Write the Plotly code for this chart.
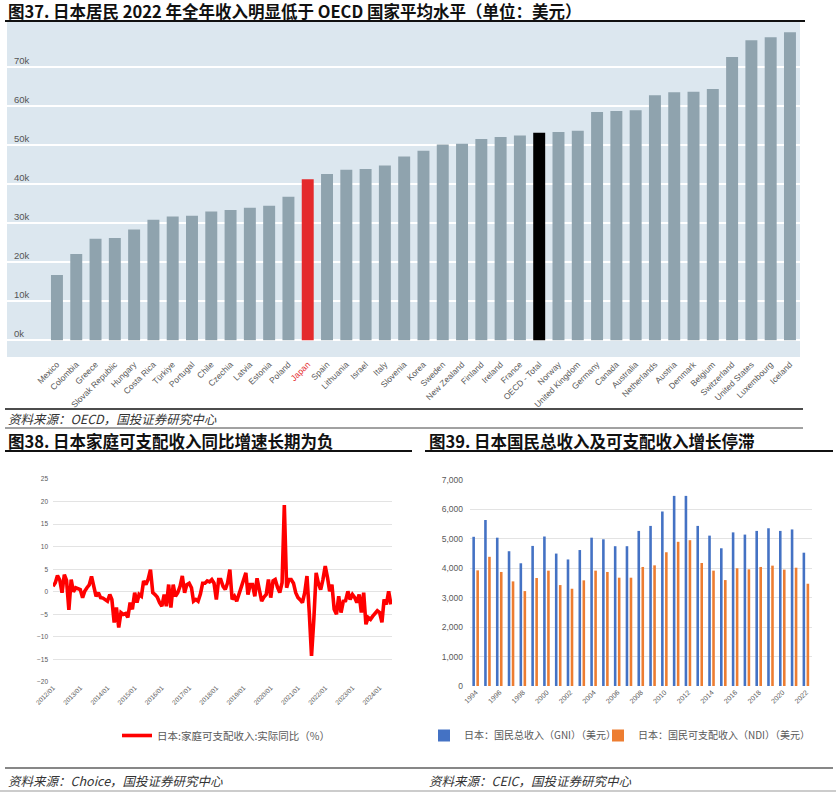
import plotly.graph_objects as go
import pandas as pd

W, H = 836, 792
def px(x): return x / W
def py(y): return 1 - y / H

# ---------------- Fig 37 data ----------------
countries = ["Mexico", "Colombia", "Greece", "Slovak Republic", "Hungary", "Costa Rica", "Türkiye",
             "Portugal", "Chile", "Czechia", "Latvia", "Estonia", "Poland", "Japan", "Spain",
             "Lithuania", "Israel", "Italy", "Slovenia", "Korea", "Sweden", "New Zealand", "Finland",
             "Ireland", "France", "OECD - Total", "Norway", "United Kingdom", "Germany", "Canada",
             "Australia", "Netherlands", "Austria", "Denmark", "Belgium", "Switzerland",
             "United States", "Luxembourg", "Iceland"]
income = [16750, 22100, 26000, 26200, 28400, 30900, 31700, 31900, 33000, 33400, 34000, 34500,
          36800, 41300, 42600, 43700, 43900, 44800, 47100, 48600, 50200, 50400, 51600, 52100,
          52500, 53200, 53400, 53700, 58500, 58800, 59000, 62800, 63600, 63700, 64400, 72600,
          76900, 77700, 79000]
income_ticks = [0, 10000, 20000, 30000, 40000, 50000, 60000, 70000]
income_tick_labels = ["0k", "10k", "20k", "30k", "40k", "50k", "60k", "70k"]

# ---------------- Fig 38 data ----------------
start_month = "2012-01-01"
real_yoy = [1.2, 2.0, 3.6, 2.6, -0.2, 3.8, 2.5, -4.0, 2.7, 0.0, 0.9, 0.8,
            0.5, -1.3, 0.1, 0.9, 1.5, 3.4, 1.2, -1.0, -0.2, -1.3, -1.4, -1.7,
            -2.1, -0.6, -1.7, -6.8, -3.5, -7.9, -4.6, -5.0, -4.8, -5.7, -2.4, -3.9,
            -0.2, -2.4, -0.6, -1.0, 2.4, 1.6, 2.8, 4.9, -0.2, -0.6, -1.2, -2.4,
            -3.2, -0.6, -3.2, 1.6, -3.5, 1.6, -1.0, -0.2, 1.2, 3.5, -0.2, 1.6,
            1.9, 0.9, -2.1, -1.7, -2.1, -0.5, 1.9, 1.9, 2.4, 2.2, 2.7, 1.9,
            -1.7, 2.7, 2.7, 1.2, 0.5, 2.0, 4.9, -1.7, -1.0, -2.1, -0.5, 0.5,
            2.7, 4.2, -0.6, 1.6, 1.6, -1.0, 3.0, 0.5, -2.1, -1.2, -0.6, 2.7,
            -1.3, 2.4, 2.7, 1.0, -0.2, 2.0, 19.2, 0.9, 2.7, 2.7, 1.9, -0.2,
            -1.3, -1.8, -2.4, -0.2, 3.5, -4.6, -14.2, -6.1, 4.2, 1.9, 0.5, 2.7,
            5.7, 3.1, 0.1, 1.6, -3.9, -5.0, -1.0, -4.6, -2.1, -2.0, 0.1, -1.7,
            -0.6, -1.3, -2.4, -0.6, -4.6, -0.2, -7.2, -5.7, -6.1, -5.4, -4.8, -4.2,
            -4.6, -6.8, -1.7, -2.8, 0.1, -2.8]
months = pd.date_range(start_month, periods=len(real_yoy), freq="MS")

# ---------------- Fig 39 data ----------------
years = list(range(1994, 2023))
gni = [5070, 5640, 5040, 4580, 4170, 4760, 5080, 4500, 4300, 4620, 5040, 4985, 4750, 4750,
       5270, 5440, 5930, 6460, 6460, 5440, 5110, 4680, 5220, 5145, 5270, 5360, 5270, 5320, 4530]
ndi = [3930, 4390, 3875, 3555, 3225, 3670, 3920, 3430, 3305, 3590, 3920, 3875, 3680, 3680,
       4045, 4100, 4545, 4900, 4955, 4180, 3920, 3600, 4000, 3965, 4045, 4090, 3955, 4020, 3475]

fig = go.Figure()

# ---- Fig 37 bars ----
bar_colors = ["#e42a2c" if c == "Japan" else ("#000000" if c == "OECD - Total" else "#8fa3ae")
              for c in countries]
tick_text = [f"<span style='color:#e42a2c'>{c}</span>" if c == "Japan" else c for c in countries]
fig.add_trace(go.Bar(x=countries, y=income, marker=dict(color=bar_colors, line=dict(width=0)),
                     width=0.62, xaxis="x", yaxis="y", showlegend=False))

# ---- Fig 38 line ----
fig.add_trace(go.Scatter(x=months, y=real_yoy, mode="lines",
                         line=dict(color="#ff0000", width=3.6),
                         name="日本:家庭可支配收入:实际同比（%）",
                         xaxis="x2", yaxis="y2", legend="legend"))

# ---- Fig 39 bars ----
fig.add_trace(go.Bar(x=years, y=gni, marker_color="#4472c4", name="日本：国民总收入（GNI）（美元）",
                     width=0.22, offset=-0.3, xaxis="x3", yaxis="y3", legend="legend2"))
fig.add_trace(go.Bar(x=years, y=ndi, marker_color="#ed7d31", name="日本：国民可支配收入（NDI）（美元）",
                     width=0.22, offset=0.04, xaxis="x3", yaxis="y3", legend="legend3"))

legend_font = dict(size=10.5, color="#595959", family="Noto Sans CJK SC")
legend_font2 = dict(size=10, color="#595959", family="Noto Sans CJK SC")
fig.update_layout(
    template="none",
    width=W, height=H,
    margin=dict(l=0, r=0, t=0, b=0, autoexpand=False),
    paper_bgcolor="white",
    plot_bgcolor="rgba(0,0,0,0)",
    font=dict(family="Noto Sans CJK SC, Liberation Sans", color="#333333"),
    barmode="group",
    xaxis=dict(domain=[px(7), px(800)], anchor="y", type="category", automargin=False,
               tickangle=-45, tickvals=countries, ticktext=tick_text,
               tickfont=dict(family="Liberation Sans, Arial", size=8.5, color="#595959"),
               showgrid=False, zeroline=False, showline=False, ticks="",
               range=[-2.59, len(countries) - 0.48]),
    yaxis=dict(domain=[py(357), py(22)], anchor="x", range=[-4300, 81600], automargin=False,
               tickvals=income_ticks, ticktext=income_tick_labels,
               ticklabelposition="inside top", ticklabelstandoff=4,
               tickfont=dict(family="Liberation Sans, Arial", size=9.5, color="#555555"),
               showgrid=True, gridcolor="white", gridwidth=1.5, zeroline=False, showline=False,
               ticks=""),
    xaxis2=dict(domain=[px(53), px(392)], anchor="y2", type="date", automargin=False,
                range=["2012-01-01", "2024-06-15"], tick0="2012-01-01", dtick="M12",
                tickformat="%Y/%m", tickangle=-45,
                tickfont=dict(family="Liberation Sans, Arial", size=6.5, color="#595959"),
                showgrid=False, zeroline=False, showline=False, ticks=""),
    yaxis2=dict(domain=[py(682), py(479)], anchor="x2", range=[-20, 25], dtick=5, automargin=False,
                tickfont=dict(family="Liberation Sans, Arial", size=6.5, color="#595959"),
                showgrid=True, gridcolor="#e3e3e3", gridwidth=1, zeroline=False, showline=False,
                ticks="", ticklabelstandoff=4),
    xaxis3=dict(domain=[px(470), px(812)], anchor="y3", range=[1993.5, 2022.5], automargin=False,
                tickvals=years[::2], tickangle=-45,
                tickfont=dict(family="Liberation Sans, Arial", size=7, color="#595959"),
                showgrid=False, zeroline=False, showline=False, ticks=""),
    yaxis3=dict(domain=[py(686), py(480)], anchor="x3", range=[0, 7000], dtick=1000, automargin=False,
                tickformat=",", tickfont=dict(family="Liberation Sans, Arial", size=8.5, color="#595959"),
                showgrid=True, gridcolor="#e3e3e3", gridwidth=1, zeroline=False, showline=False,
                ticks="", ticklabelstandoff=6),
    legend=dict(x=px(117), y=py(721), xanchor="left", yanchor="top", bgcolor="rgba(0,0,0,0)",
                font=legend_font),
    legend2=dict(x=px(424), y=py(721), xanchor="left", yanchor="top", bgcolor="rgba(0,0,0,0)",
                 itemwidth=30, font=legend_font2),
    legend3=dict(x=px(598), y=py(721), xanchor="left", yanchor="top", bgcolor="rgba(0,0,0,0)",
                 itemwidth=30, font=legend_font2),
)

shapes = [
    dict(type="rect", xref="paper", yref="paper", x0=px(7), x1=px(800), y0=py(357), y1=py(22),
         fillcolor="#dce7ef", line=dict(width=0), layer="below"),
    dict(type="line", xref="paper", yref="paper", x0=px(5), x1=px(805), y0=py(21), y1=py(21),
         line=dict(color="#111111", width=2)),
    dict(type="line", xref="paper", yref="paper", x0=px(5), x1=px(803), y0=py(409), y1=py(409),
         line=dict(color="#111111", width=1.5)),
    dict(type="line", xref="paper", yref="paper", x0=px(5), x1=px(803), y0=py(428), y1=py(428),
         line=dict(color="#444444", width=1)),
    dict(type="line", xref="paper", yref="paper", x0=px(5), x1=px(412), y0=py(451), y1=py(451),
         line=dict(color="#111111", width=1.8)),
    dict(type="line", xref="paper", yref="paper", x0=px(425), x1=px(833), y0=py(451), y1=py(451),
         line=dict(color="#111111", width=1.8)),
    dict(type="line", xref="paper", yref="paper", x0=px(5), x1=px(833), y0=py(768), y1=py(768),
         line=dict(color="#111111", width=1.2)),
    dict(type="line", xref="paper", yref="paper", x0=px(0), x1=px(836), y0=py(791), y1=py(791),
         line=dict(color="#cccccc", width=2)),
]
fig.update_layout(shapes=shapes)

title_font = dict(family="Noto Sans CJK SC", size=16.5, color="#111111", weight="bold")
src_font = dict(family="Noto Sans CJK SC", size=12.5, color="#333333", style="italic")
annotations = [
    dict(text="图37. 日本居民 2022 年全年收入明显低于 OECD 国家平均水平（单位：美元）",
         x=px(6), y=py(11), xanchor="left", yanchor="middle", font=title_font),
    dict(text="资料来源：OECD，国投证券研究中心", x=px(6), y=py(418), xanchor="left", yanchor="middle",
         font=src_font),
    dict(text="图38. 日本家庭可支配收入同比增速长期为负", x=px(6), y=py(441), xanchor="left",
         yanchor="middle", font=title_font),
    dict(text="图39. 日本国民总收入及可支配收入增长停滞", x=px(427), y=py(441), xanchor="left",
         yanchor="middle", font=title_font),
    dict(text="资料来源：Choice，国投证券研究中心", x=px(6), y=py(780), xanchor="left", yanchor="middle",
         font=src_font),
    dict(text="资料来源：CEIC，国投证券研究中心", x=px(427), y=py(780), xanchor="left", yanchor="middle",
         font=src_font),
]
for a in annotations:
    a.update(xref="paper", yref="paper", showarrow=False)
fig.update_layout(annotations=annotations)

fig.write_html("out.html", config={"displayModeBar": False},
               post_script="document.body.style.margin='0';document.body.style.overflow='hidden';")
